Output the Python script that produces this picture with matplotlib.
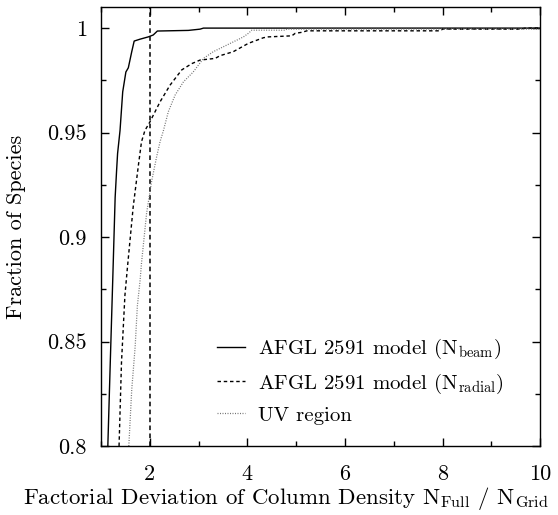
import numpy as np
import matplotlib
matplotlib.use("Agg")
import matplotlib.pyplot as plt
from matplotlib.ticker import MultipleLocator

plt.rcParams["font.family"] = "serif"
plt.rcParams["font.serif"] = ["cmr10"]
plt.rcParams["mathtext.fontset"] = "cm"
plt.rcParams["axes.formatter.use_mathtext"] = True

# cumulative fraction of species vs. factorial deviation
beam_x = [1.14, 1.19, 1.24, 1.29, 1.32, 1.34, 1.39, 1.445, 1.51, 1.56, 1.63, 1.68,
          1.80, 1.97, 2.07, 2.155, 2.79, 3.03, 3.1, 10.0]
beam_y = [0.80, 0.84, 0.879, 0.919, 0.932, 0.94, 0.951, 0.9695, 0.979, 0.981, 0.9887, 0.9938,
          0.9947, 0.9958, 0.9967, 0.9986, 0.9989, 0.9995, 1.0, 1.0]

radial_x = [1.37, 1.42, 1.49, 1.54, 1.66, 1.77, 1.83, 1.90, 2.0, 2.21, 2.415, 2.655, 2.86,
            3.03, 3.34, 3.44, 3.71, 4.02, 4.33, 4.43, 4.91, 4.98, 5.12, 5.22, 7.95, 8.0, 9.6, 9.7, 10.0]
radial_y = [0.80, 0.84, 0.872, 0.885, 0.9145, 0.935, 0.9456, 0.951, 0.955, 0.9647, 0.9727, 0.98, 0.983,
            0.9847, 0.9855, 0.9868, 0.9887, 0.9927, 0.9954, 0.9958, 0.9963, 0.9975, 0.998, 0.9987,
            0.9987, 0.9995, 0.9995, 1.0, 1.0]

uv_x = [1.57, 1.63, 1.70, 1.745, 1.80, 1.83, 1.935, 2.04, 2.14, 2.21, 2.28, 2.38, 2.52, 2.69, 2.89,
        3.10, 3.30, 3.44, 3.65, 3.92, 4.02, 4.09, 4.77, 4.81, 10.0]
uv_y = [0.80, 0.827, 0.8475, 0.867, 0.879, 0.8875, 0.9115, 0.927, 0.9384, 0.9456, 0.951, 0.96, 0.968,
        0.9743, 0.979, 0.9855, 0.9887, 0.9903, 0.9927, 0.9958, 0.9975, 0.999, 0.999, 0.9995, 0.9995]

x_ticks = [2, 4, 6, 8, 10]
y_ticks = [0.8, 0.85, 0.9, 0.95, 1.0]
y_ticklabels = ["0.8", "0.85", "0.9", "0.95", "1"]

fig = plt.figure(figsize=(5.58, 5.15), dpi=100)
ax = fig.add_axes([0.181, 0.134, 0.787, 0.852])

ax.axvline(2, color="black", lw=1.1, dashes=(3, 2.2))
ax.plot(beam_x, beam_y, color="black", lw=1.0, label=r"AFGL 2591 model (N$_{\rm beam}$)")
ax.plot(radial_x, radial_y, color="black", lw=1.0, dashes=(2.5, 2),
        label=r"AFGL 2591 model (N$_{\rm radial}$)")
ax.plot(uv_x, uv_y, color="0.45", lw=0.9, dashes=(0.8, 1.2), label="UV region")

ax.set_xlim(1, 10)
ax.set_ylim(0.8, 1.01)
ax.set_xticks(x_ticks)
ax.set_xticklabels([str(t) for t in x_ticks])
ax.set_yticks(y_ticks)
ax.set_yticklabels(y_ticklabels)
ax.xaxis.set_minor_locator(MultipleLocator(1))
ax.yaxis.set_minor_locator(MultipleLocator(0.025))
ax.tick_params(which="both", direction="in", top=True, right=True, labelsize=16, width=1)
ax.tick_params(which="major", length=5.5, pad=10)
ax.tick_params(axis="x", which="major", pad=13)
ax.tick_params(which="minor", length=3.5)
for s in ax.spines.values():
    s.set_linewidth(1.0)

ax.set_ylabel("Fraction of Species", fontsize=16)
ax.yaxis.set_label_coords(-0.17, 0.5)
ax.set_xlabel(r"Factorial Deviation of Column Density N$_{\rm Full}$ / N$_{\rm Grid}$", fontsize=16.5)
ax.xaxis.set_label_coords(0.42, -0.09)

ax.legend(loc="lower right", frameon=False, fontsize=15, handlelength=1.35,
          handletextpad=0.62, labelspacing=0.49, bbox_to_anchor=(0.959, 0.006))

fig.savefig("out.png", dpi=100)
